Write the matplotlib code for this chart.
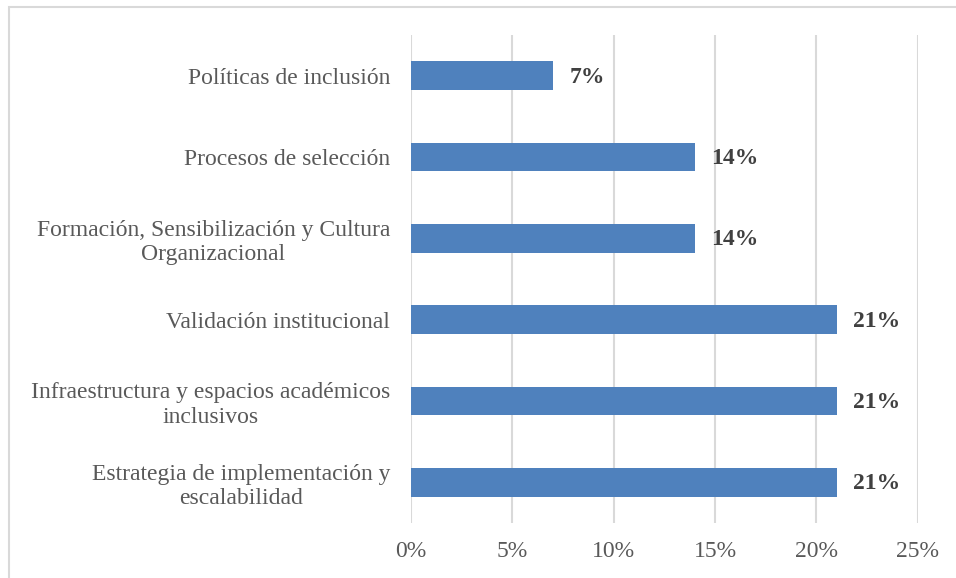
import matplotlib
matplotlib.use("Agg")
from matplotlib import pyplot as plt
from matplotlib.patches import Rectangle
from matplotlib.ticker import FuncFormatter

# datos (de abajo hacia arriba)
categorias = [
    "Estrategia de implementación y\nescalabilidad",
    "Infraestructura y espacios académicos\ninclusivos",
    "Validación institucional",
    "Formación, Sensibilización y Cultura\nOrganizacional",
    "Procesos de selección",
    "Políticas de inclusión",
]
valores = [21, 21, 21, 14, 14, 7]
ticks_x = [0, 5, 10, 15, 20, 25]

plt.rcParams['font.family'] = ['Liberation Serif', 'DejaVu Serif']

fig = plt.figure(figsize=(9.56, 5.78), dpi=100)
ax = fig.add_axes([0.430, 0.0952, 0.530, 0.8442])

# marco exterior gris claro
fig.patches.append(Rectangle((8.5 / 956, -0.1), 1.2, 1 - 6.5 / 578 + 0.1,
                             transform=fig.transFigure, fill=False,
                             edgecolor='#d9d9d9', linewidth=1.5, zorder=0))

pos = list(range(len(categorias)))
ax.barh(pos, valores, height=0.355, color='#4f81bd', zorder=3)

for p, v in zip(pos, valores):
    ax.annotate("%d%%" % v, xy=(v, p), xytext=(12, -1), textcoords='offset points',
                ha='left', va='center', fontsize=17, fontweight='bold', color='#404040')

ax.set_xlim(0, 25)
ax.set_ylim(-0.5, 5.5)
ax.set_xticks(ticks_x)
ax.xaxis.set_major_formatter(FuncFormatter(lambda x, _: "%d%%" % x))
ax.set_yticks(pos)
ax.set_yticklabels(categorias, multialignment='center', linespacing=1.2)

ax.grid(axis='x', color='#d9d9d9', linewidth=1.5, zorder=0)
for s in ax.spines.values():
    s.set_visible(False)
ax.tick_params(axis='both', length=0, labelsize=17, labelcolor='#595959')
ax.tick_params(axis='y', pad=15)
ax.tick_params(axis='x', pad=13)

plt.savefig("out.png", dpi=100)
